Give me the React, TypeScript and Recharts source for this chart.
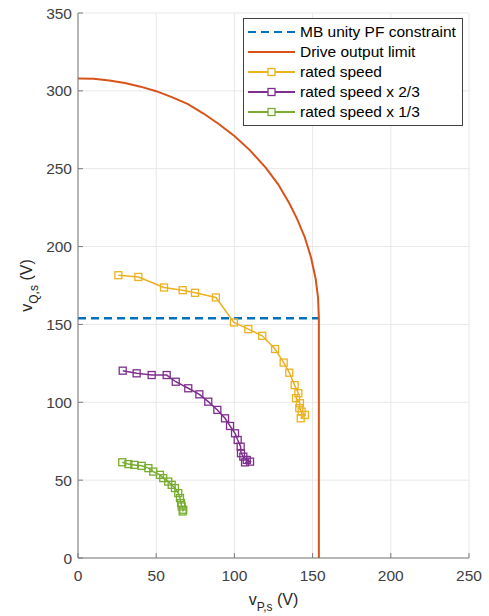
import React from "react";
import { LineChart, Line, XAxis, YAxis, CartesianGrid, Legend } from "recharts";

const FONT = '"Liberation Sans", Arial, Helvetica, sans-serif';

const xTicks = [0, 50, 100, 150, 200, 250];
const yTicks = [0, 50, 100, 150, 200, 250, 300, 350];

// [vP, vQ] pairs
const pfConstraint = [
  [0, 154],
  [154, 154],
];

const driveLimit = [
  [0, 308], [10, 307.7], [20, 306.7], [30, 305], [40, 302.7], [50, 299.8],
  [60, 296], [70, 291.6], [80, 285.6], [90, 278.7], [100, 271], [110, 261.8],
  [120, 250.7], [128, 240], [135, 228], [140, 218], [145, 206], [149, 193],
  [152, 179], [153.5, 167], [154, 154], [154, 0],
];

const ratedSpeed = [
  [25.8, 181.6], [38.6, 180.5], [55.0, 173.7], [66.9, 172.0], [74.8, 170.3],
  [88.2, 167.3], [99.7, 151.3], [108.9, 147.0], [117.8, 142.7], [126.0, 134.2],
  [131.5, 125.5], [135.1, 119.0], [138.5, 111.0], [140.9, 105.8], [139.4, 102.6],
  [141.9, 99.4], [141.5, 96.2], [143.0, 94.0], [145.1, 91.9], [142.4, 89.7],
];

const speedTwoThirds = [
  [28.6, 120.3], [37.5, 118.6], [47.1, 117.5], [56.7, 117.5], [62.5, 113.2],
  [70.5, 109.0], [77.6, 105.1], [83.3, 100.4], [89.1, 95.1], [94.0, 89.7],
  [97.2, 84.8], [100.4, 80.1], [102.1, 75.8], [104.0, 71.5], [104.2, 67.3],
  [105.7, 65.1], [107.9, 63.0], [110.0, 61.9], [106.8, 61.4],
];

const speedOneThird = [
  [28.3, 61.5], [32.2, 60.3], [36.0, 59.8], [40.7, 59.2], [45.0, 57.7],
  [48.1, 55.5], [52.4, 53.4], [54.5, 51.3], [57.7, 49.1], [59.9, 47.0],
  [62.0, 44.9], [64.1, 41.7], [65.2, 38.5], [65.9, 35.3], [66.3, 33.1],
  [67.3, 31.0], [66.9, 29.9],
];

const toPoints = (pairs: number[][]) => pairs.map(([x, y]) => ({ x, y }));

const BLUE = "#0072BD";
const ORANGE = "#D95319";
const YELLOW = "#EDB120";
const PURPLE = "#7E2F8E";
const GREEN = "#77AC30";

const legendItems = [
  { name: "MB unity PF constraint", color: BLUE, dashed: true, marker: false },
  { name: "Drive output limit", color: ORANGE, dashed: false, marker: false },
  { name: "rated speed", color: YELLOW, dashed: false, marker: true },
  { name: "rated speed x 2/3", color: PURPLE, dashed: false, marker: true },
  { name: "rated speed x 1/3", color: GREEN, dashed: false, marker: true },
];

const squareDot = (color: string) => (props: any) => {
  const { cx, cy, index } = props;
  if (cx == null || cy == null) return <g key={index} />;
  return (
    <rect
      key={index}
      x={cx - 3.5}
      y={cy - 3.5}
      width={7}
      height={7}
      fill="none"
      stroke={color}
      strokeWidth={1.3}
    />
  );
};

const LegendBox = () => (
  <div
    style={{
      border: "1px solid #404040",
      background: "#fff",
      padding: "3px 6px 3px 4px",
      fontFamily: FONT,
      fontSize: 15.5,
      color: "#000",
      lineHeight: "20px",
    }}
  >
    {legendItems.map((it) => (
      <div key={it.name} style={{ display: "flex", alignItems: "center", height: 20 }}>
        <svg width={47} height={12} style={{ display: "block" }}>
          <line
            x1={0}
            x2={47}
            y1={6}
            y2={6}
            stroke={it.color}
            strokeWidth={it.dashed ? 2.2 : 1.8}
            strokeDasharray={it.dashed ? "8 5" : undefined}
          />
          {it.marker && (
            <rect x={20} y={2.5} width={7} height={7} fill="#fff" stroke={it.color} strokeWidth={1.3} />
          )}
        </svg>
        <span style={{ marginLeft: 5, whiteSpace: "nowrap" }}>{it.name}</span>
      </div>
    ))}
  </div>
);

const XTitle = ({ viewBox }: any) => {
  const cx = viewBox.x + viewBox.width / 2;
  return (
    <text x={cx} y={605} textAnchor="middle" fontFamily={FONT} fontSize={16} fill="#262626">
      v
      <tspan dy={6} fontSize={12}>P,s</tspan>
      <tspan dy={-6}> (V)</tspan>
    </text>
  );
};

const YTitle = ({ viewBox }: any) => {
  const cy = viewBox.y + viewBox.height / 2;
  return (
    <text
      transform={`translate(32, ${cy}) rotate(-90)`}
      textAnchor="middle"
      fontFamily={FONT}
      fontSize={16}
      fill="#262626"
    >
      v
      <tspan dy={6} fontSize={12}>Q,s</tspan>
      <tspan dy={-6}> (V)</tspan>
    </text>
  );
};

const axisStroke = "#7a7a7a";
const tickStyle = { fontFamily: FONT, fontSize: 15.5, fill: "#404040" };

export default function App() {
  return (
    <div style={{ position: "absolute", left: 0, top: 0, background: "#fff" }}>
      <LineChart
        width={489}
        height={616}
        margin={{ top: 13, right: 20, bottom: 18, left: 18 }}
      >
        <CartesianGrid
          xAxisId="main"
          yAxisId="main"
          stroke="#e8e8e8"
          horizontalValues={yTicks}
          verticalValues={xTicks}
        />
        <XAxis
          xAxisId="main"
          dataKey="x"
          type="number"
          domain={[0, 250]}
          ticks={xTicks}
          allowDataOverflow
          height={40}
          stroke={axisStroke}
          tickSize={-5}
          tickMargin={17}
          tick={tickStyle}
          label={<XTitle />}
        />
        <XAxis
          xAxisId="top"
          orientation="top"
          type="number"
          domain={[0, 250]}
          ticks={xTicks}
          height={0}
          mirror
          stroke={axisStroke}
          tickSize={5}
          tickFormatter={() => ""}
        />
        <YAxis
          yAxisId="main"
          type="number"
          domain={[0, 350]}
          ticks={yTicks}
          allowDataOverflow
          width={60}
          stroke={axisStroke}
          tickSize={-5}
          tickMargin={11}
          tick={tickStyle}
          label={<YTitle />}
        />
        <YAxis
          yAxisId="right"
          orientation="right"
          type="number"
          domain={[0, 350]}
          ticks={yTicks}
          width={0}
          mirror
          stroke={axisStroke}
          tickSize={5}
          tickFormatter={() => ""}
        />
        <Legend
          layout="vertical"
          align="center"
          verticalAlign="middle"
          wrapperStyle={{ left: 243, top: 18, width: "auto" }}
          content={() => <LegendBox />}
        />
        <Line
          xAxisId="main"
          yAxisId="main"
          data={toPoints(pfConstraint)}
          dataKey="y"
          name="MB unity PF constraint"
          type="linear"
          stroke={BLUE}
          strokeWidth={2.4}
          strokeDasharray="8 5"
          dot={false}
          isAnimationActive={false}
        />
        <Line
          xAxisId="main"
          yAxisId="main"
          data={toPoints(driveLimit)}
          dataKey="y"
          name="Drive output limit"
          type="linear"
          stroke={ORANGE}
          strokeWidth={2}
          dot={false}
          isAnimationActive={false}
        />
        <Line
          xAxisId="main"
          yAxisId="main"
          data={toPoints(ratedSpeed)}
          dataKey="y"
          name="rated speed"
          type="linear"
          stroke={YELLOW}
          strokeWidth={1.5}
          dot={squareDot(YELLOW)}
          isAnimationActive={false}
        />
        <Line
          xAxisId="main"
          yAxisId="main"
          data={toPoints(speedTwoThirds)}
          dataKey="y"
          name="rated speed x 2/3"
          type="linear"
          stroke={PURPLE}
          strokeWidth={1.5}
          dot={squareDot(PURPLE)}
          isAnimationActive={false}
        />
        <Line
          xAxisId="main"
          yAxisId="main"
          data={toPoints(speedOneThird)}
          dataKey="y"
          name="rated speed x 1/3"
          type="linear"
          stroke={GREEN}
          strokeWidth={1.5}
          dot={squareDot(GREEN)}
          isAnimationActive={false}
        />
      </LineChart>
    </div>
  );
}
